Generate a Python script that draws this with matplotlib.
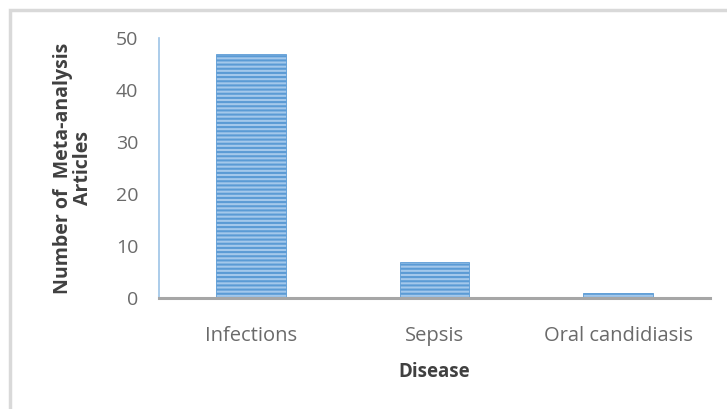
import matplotlib.pyplot as plt
from matplotlib.patches import Rectangle

diseases = ['Infections', 'Sepsis', 'Oral candidiasis']
articles = [47, 7, 1]
y_ticks = [0, 10, 20, 30, 40, 50]

plt.rcParams['font.family'] = ['Open Sans', 'DejaVu Sans']
plt.rcParams['hatch.color'] = '#5b9bd5'
plt.rcParams['hatch.linewidth'] = 1.5

fig = plt.figure(figsize=(7.27, 4.09), dpi=100)
# light grey frame around the chart area
fig.patches.append(Rectangle((10 / 727, -0.05), 1.0, 1.0 - 10 / 409 + 0.05,
                             transform=fig.transFigure, fill=False,
                             edgecolor='#d9d9d9', linewidth=2.5))

ax = fig.add_axes([159 / 727, 1 - 298 / 409, 551 / 727, 260 / 409])
ax.bar(diseases, articles, width=0.38, color='#a4c8eb', edgecolor='#5b9bd5',
       linewidth=0.6, hatch='----')

ax.set_ylim(0, 50)
ax.set_xlim(-0.5, 2.5)
ax.set_yticks(y_ticks)
ax.tick_params(axis='y', length=0, pad=15, labelsize=14, labelcolor='#6a6a6a')
ax.tick_params(axis='x', length=0, pad=20, labelsize=14.5, labelcolor='#6a6a6a')

for s in ['top', 'right']:
    ax.spines[s].set_visible(False)
ax.spines['left'].set_color('#9dc3e6')
ax.spines['left'].set_linewidth(1.2)
ax.spines['bottom'].set_color('#a6a6a6')
ax.spines['bottom'].set_linewidth(2.2)

ax.set_xlabel('Disease', fontsize=13.5, fontweight='bold', color='#404040', labelpad=12)
ax.set_ylabel('Number of  Meta-analysis\nArticles', fontsize=14, fontweight='bold',
              color='#404040', labelpad=16, linespacing=1.0)

fig.savefig('out.png', dpi=100)
